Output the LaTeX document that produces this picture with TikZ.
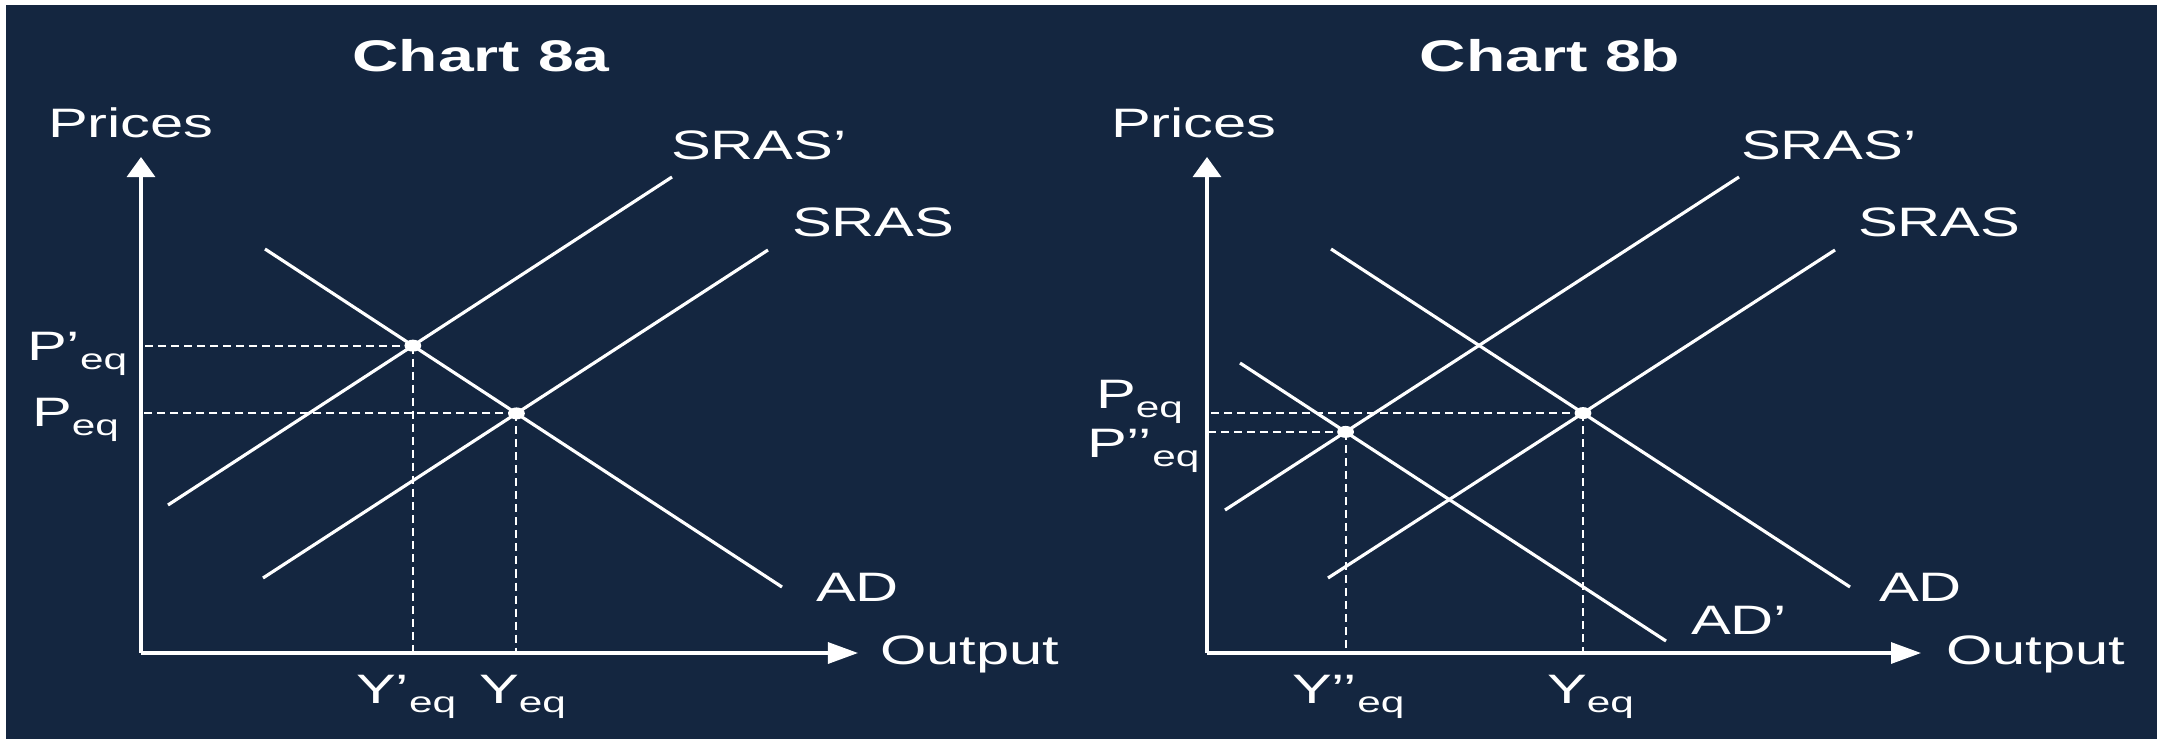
\documentclass[tikz,border=0pt]{standalone}
\usepackage{fontspec}
\setmainfont{Liberation Sans}
\usetikzlibrary{arrows.meta, positioning}
\definecolor{chartNavy}{RGB}{20,38,64}
\newcommand{\lblfont}{\fontsize{11.7}{14}\selectfont}
\newcommand{\titlefont}{\fontsize{12.6}{15}\selectfont\bfseries}
\newcommand{\eqsub}{\raisebox{-0.09cm}{\fontsize{8.3}{9}\selectfont eq}}
\tikzset{
	curve/.style={white, line width=0.9pt},
	axis/.style={white, line width=0.9pt},
	xarrow/.style={-{Triangle[length=0.30cm, width=0.21cm]}},
	yarrow/.style={-{Triangle[length=0.20cm, width=0.28cm]}},
	guide/.style={white, line width=0.55pt, dash pattern=on 0.08cm off 0.05cm},
	eqpoint/.style={circle, fill=white, inner sep=0pt, minimum size=0.12cm, xscale=1.4},
	lbl/.style={text=white, font=\lblfont, inner sep=0pt, anchor=base west, xscale=1.45},
	charttitle/.style={text=white, font=\titlefont, inner sep=0pt, anchor=base, xscale=1.45},
}

\begin{document}
\begin{tikzpicture}[x=0.01cm, y=-0.01cm]
	\useasboundingbox (0,0) rectangle (2157,739);
	\fill[white] (0,0) rectangle (2157,739);
	\fill[chartNavy] (6,5) rectangle (2157,739);
	
	% --- Chart 8a ---
	\node[charttitle] (titleA) at (481,71) {Chart 8a};
	\coordinate (Oa) at (141,653);
	\coordinate (topA) at (141,157);
	\coordinate (endA) at (858,653);
	\draw[axis, yarrow] (Oa) -- (topA);
	\draw[axis, xarrow] (Oa) -- (endA);
	\node[lbl] (pricesA) at (47,137) {Prices};
	\node[lbl] (outputA) at (879,664) {Output};
	
	\coordinate (srasPa1) at (168,505);
	\coordinate (srasPa2) at (672,177);
	\coordinate (srasa1) at (263,578);
	\coordinate (srasa2) at (768,250);
	\coordinate (ada1) at (265,249);
	\coordinate (ada2) at (782,587);
	\draw[curve] (srasPa1) -- (srasPa2);
	\draw[curve] (srasa1) -- (srasa2);
	\draw[curve] (ada1) -- (ada2);
	\node[lbl] (srasPaLbl) at (670,159) {SRAS’};
	\node[lbl] (srasaLbl) at (791,236) {SRAS};
	\node[lbl] (adaLbl) at (815,601) {AD};
	
	\coordinate (EPa) at (intersection of ada1--ada2 and srasPa1--srasPa2);
	\coordinate (Ea) at (intersection of ada1--ada2 and srasa1--srasa2);
	\draw[guide] (EPa) -- (EPa -| Oa);
	\draw[guide] (EPa) -- (EPa |- Oa);
	\draw[guide] (Ea) -- (Ea -| Oa);
	\draw[guide] (Ea) -- (Ea |- Oa);
	\node[eqpoint] (dotEPa) at (EPa) {};
	\node[eqpoint] (dotEa) at (Ea) {};
	
	\node[lbl] (pPa) at (26,360) {P’\eqsub};
	\node[lbl] (pa) at (31,426) {P\eqsub};
	\node[lbl] (yPa) at (355,703) {Y’\eqsub};
	\node[lbl] (ya) at (478,703) {Y\eqsub};
	
	% --- Chart 8b ---
	\node[charttitle] (titleB) at (1550,71) {Chart 8b};
	\coordinate (Ob) at (1207,653);
	\coordinate (topB) at (1207,157);
	\coordinate (endB) at (1921,653);
	\draw[axis, yarrow] (Ob) -- (topB);
	\draw[axis, xarrow] (Ob) -- (endB);
	\node[lbl] (pricesB) at (1110,137) {Prices};
	\node[lbl] (outputB) at (1945,664) {Output};
	
	\coordinate (srasPb1) at (1225,510);
	\coordinate (srasPb2) at (1739,177);
	\coordinate (srasb1) at (1328,578);
	\coordinate (srasb2) at (1835,250);
	\coordinate (adb1) at (1331,249);
	\coordinate (adb2) at (1850,587);
	\coordinate (adPb1) at (1240,363);
	\coordinate (adPb2) at (1666,641);
	\draw[curve] (srasPb1) -- (srasPb2);
	\draw[curve] (srasb1) -- (srasb2);
	\draw[curve] (adb1) -- (adb2);
	\draw[curve] (adPb1) -- (adPb2);
	\node[lbl] (srasPbLbl) at (1740,159) {SRAS’};
	\node[lbl] (srasbLbl) at (1857,236) {SRAS};
	\node[lbl] (adbLbl) at (1878,601) {AD};
	\node[lbl] (adPbLbl) at (1690,634) {AD’};
	
	\coordinate (Eb) at (intersection of adb1--adb2 and srasb1--srasb2);
	\coordinate (EPPb) at (intersection of adPb1--adPb2 and srasPb1--srasPb2);
	\draw[guide] (Eb) -- (Eb -| Ob);
	\draw[guide] (Eb) -- (Eb |- Ob);
	\draw[guide] (EPPb) -- (EPPb -| Ob);
	\draw[guide] (EPPb) -- (EPPb |- Ob);
	\node[eqpoint] (dotEb) at (Eb) {};
	\node[eqpoint] (dotEPPb) at (EPPb) {};
	
	\node[lbl] (pb) at (1095,408) {P\eqsub};
	\node[lbl] (pPPb) at (1086,457) {P’’\eqsub};
	\node[lbl] (yPPb) at (1291,703) {Y’’\eqsub};
	\node[lbl] (yb) at (1546,703) {Y\eqsub};
\end{tikzpicture}
\end{document}
